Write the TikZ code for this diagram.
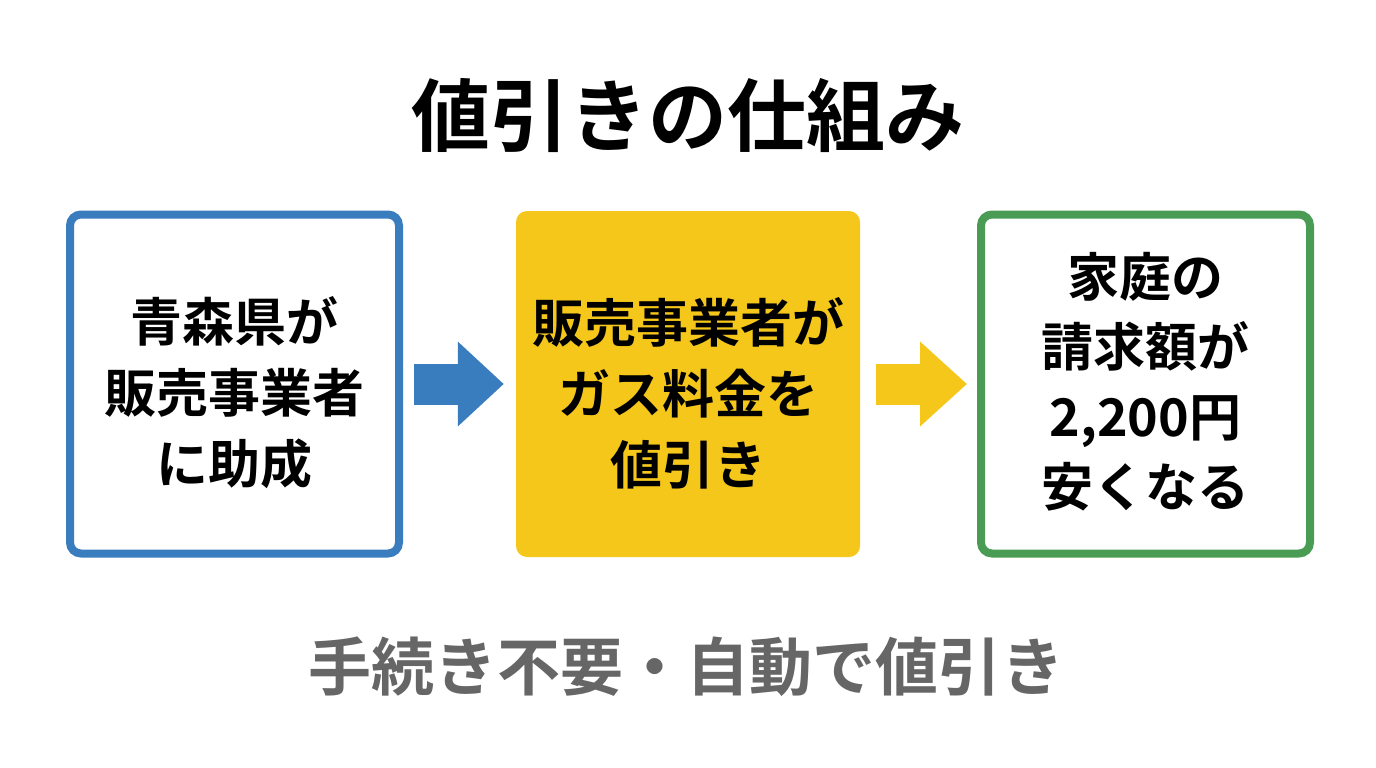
\documentclass[tikz,border=0pt]{standalone}
\usepackage{fontspec}
\setmainfont{Noto Sans CJK JP}[BoldFont={Noto Sans CJK JP Bold}]
\usetikzlibrary{positioning, arrows.meta}
\definecolor{flowblue}{HTML}{3A7DBF}
\definecolor{flowyellow}{HTML}{F5C71A}
\definecolor{flowgreen}{HTML}{4A9C55}
\definecolor{notegray}{HTML}{666666}
\begin{document}
\begin{tikzpicture}[
        x=1pt, y=-1pt,
        outlined/.style={rectangle, rounded corners=11pt, draw, line width=8pt, fill=white, minimum width=329pt, minimum height=339pt},
        filled/.style={rectangle, rounded corners=11pt, fill=flowyellow, minimum width=344pt, minimum height=346pt},
        steptext/.style={align=center, font=\fontsize{52}{71}\selectfont\bfseries, text=black},
        bluearrow/.style={-{Triangle[length=46pt, width=82pt]}, line width=41pt, flowblue, shorten <=11pt, shorten >=12pt},
        yellowarrow/.style={-{Triangle[length=47pt, width=82pt]}, line width=41pt, flowyellow, shorten <=16pt, shorten >=10pt}
    ]
    \useasboundingbox (0,0) rectangle (1376,768);

    % Title
    \node[font=\fontsize{79}{88}\selectfont\bfseries, text=black] (title) at (688,116) {値引きの仕組み};

    % Steps
    \node[outlined, draw=flowblue] (subsidy) at (234.5,384) {};
    \node[filled] (discount) at (688,384) {};
    \node[outlined, draw=flowgreen] (household) at (1145.5,384) {};

    % Step texts
    \node[steptext] (subsidytext) at ([yshift=-9pt]subsidy) {青森県が\\販売事業者\\に助成};
    \node[steptext] (discounttext) at ([yshift=-9pt]discount) {販売事業者が\\ガス料金を\\値引き};
    \node[steptext, font=\fontsize{52}{70}\selectfont\bfseries] (householdtext) at ([yshift=2pt]household) {家庭の\\請求額が\\2,200円\\安くなる};

    % Arrows
    \draw[bluearrow] (subsidy) -- (discount);
    \draw[yellowarrow] (discount) -- (household);

    % Footer
    \node[font=\fontsize{63}{72}\selectfont\bfseries, text=notegray] (note) at (686,667) {手続き不要・自動で値引き};

\end{tikzpicture}
\end{document}
